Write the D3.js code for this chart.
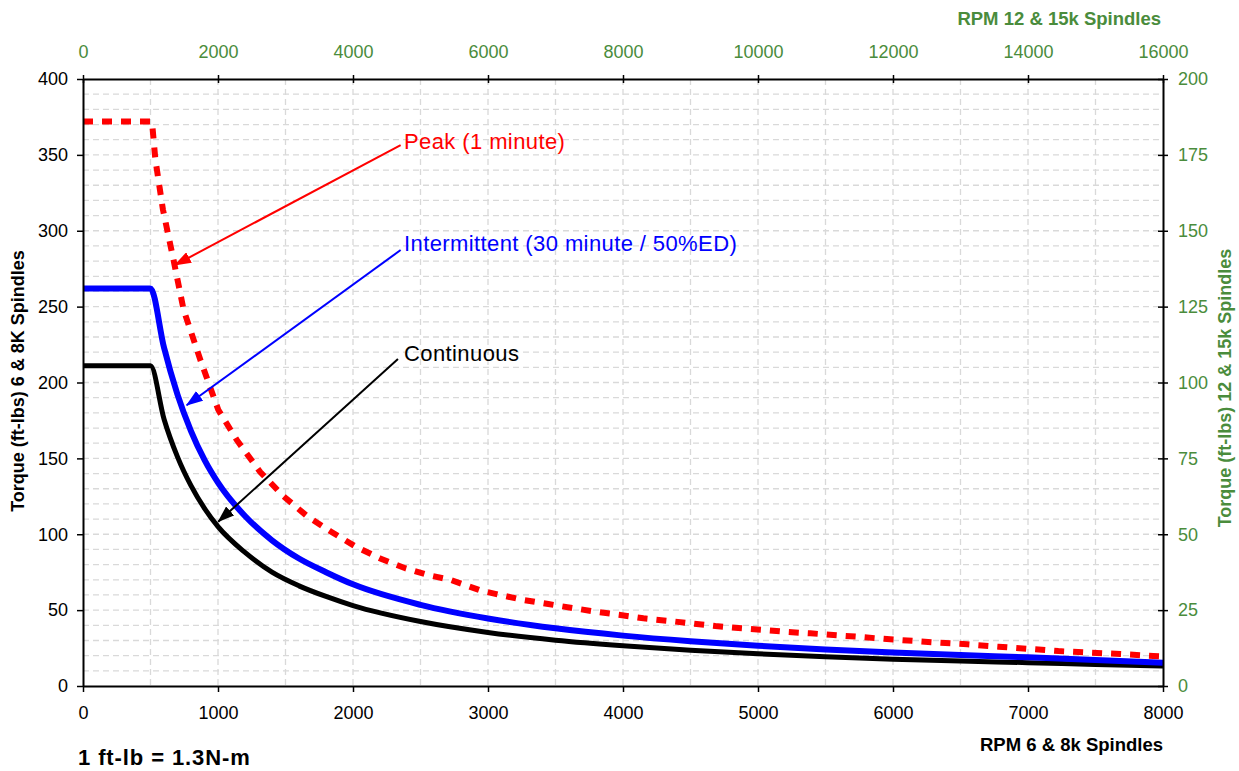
<!DOCTYPE html>
<html>
<head>
<meta charset="utf-8">
<script src="https://cdn.jsdelivr.net/npm/d3@7"></script>
<style>
  body { margin: 0; background: #fff; }
  svg text { font-family: "Liberation Sans", Arial, sans-serif; }
</style>
</head>
<body>
<div id="chart"></div>
<script>
// torque curves, [rpm (6 & 8k spindles), torque ft-lbs]
const continuous = [[0,211],[500,211],[600,176],[700,151],[800,132],[900,117],[1000,105],[1200,88],[1400,75],[1600,66],
  [1800,59],[2000,53],[2500,42.5],[3000,35.3],[3500,30.2],[4000,26.5],[4500,23.6],[5000,21.2],[5500,19.3],[6000,17.7],
  [6500,16.4],[7000,15.4],[7500,14.2],[8000,13.2]];
const intermittent = [[0,262],[500,262],[600,223],[700,192],[800,168],[900,149],[1000,134],[1200,112],[1400,96],[1600,84],
  [1800,75],[2000,67],[2500,53.5],[3000,44.5],[3500,38],[4000,33.2],[4500,29.5],[5000,26.5],[5500,24.1],[6000,22.1],
  [6500,20.4],[7000,18.9],[7500,17.2],[8000,15.3]];
const peak = [[0,372],[511,372],[536,347],[592,314],[670,281],[745,248],[869,215],[1002,182],[1140,162],[1313,141],
  [1486,125],[1659,112],[1832,102],[2017,92],[2202,84],[2387,77.6],[2560,73],[2721,70],[2943,63],[3091,60],
  [3262,56.7],[3447,54],[3625,51.4],[3795,49],[3980,46.8],[4151,44.6],[4328,43],[4499,41.3],[4684,39.5],[4854,38.2],
  [5040,36.9],[5217,35.6],[5388,34.7],[5558,33.6],[5733,32.5],[5885,31.4],[6054,30.3],[6299,28.8],[6550,27.5],
  [6780,25.9],[7017,24.4],[7225,23],[7461,22],[7683,21.1],[7928,19.8],[8000,19.5]];

const bottomTicks = [0,1000,2000,3000,4000,5000,6000,7000,8000];
const topTicks = [0,2000,4000,6000,8000,10000,12000,14000,16000];
const leftTicks = [0,50,100,150,200,250,300,350,400];
const rightTicks = [0,25,50,75,100,125,150,175,200];

// callouts: label anchor, line start and arrow tip in data units
const callouts = [
  {text: 'Peak (1 minute)', color: '#ff0000', label: [2378, 359], from: [2353, 356.5], tip: [681, 277.4]},
  {text: 'Intermittent (30 minute / 50%ED)', color: '#0000ff', label: [2378, 292], from: [2353, 287.3], tip: [768, 185]},
  {text: 'Continuous', color: '#000000', label: [2378, 219.5], from: [2333, 215.5], tip: [1002, 108.3]}
];

const green = '#4a8c3c';
const W = 1239, H = 771;
const margin = {top: 79, right: 76, bottom: 85, left: 83};
const width = W - margin.left - margin.right;
const height = H - margin.top - margin.bottom;

const svg = d3.select('#chart').append('svg')
  .attr('width', W)
  .attr('height', H);

const x = d3.scaleLinear().domain([0, 8000]).range([0, width]);
const xTop = d3.scaleLinear().domain([0, 16000]).range([0, width]);
const y = d3.scaleLinear().domain([0, 400]).range([height, 0]);
const yRight = d3.scaleLinear().domain([0, 200]).range([height, 0]);

const g = svg.append('g')
  .attr('transform', `translate(${margin.left},${margin.top})`);

// dashed grid
g.append('g').selectAll('line')
  .data(d3.range(500, 8000, 500))
  .enter().append('line')
  .attr('x1', d => x(d)).attr('x2', d => x(d))
  .attr('y1', 0).attr('y2', height)
  .attr('stroke', '#d9d9d9').attr('stroke-width', 1.3).attr('stroke-dasharray', '6,4');

g.append('g').selectAll('line')
  .data(d3.range(10, 400, 10))
  .enter().append('line')
  .attr('y1', d => y(d)).attr('y2', d => y(d))
  .attr('x1', 0).attr('x2', width)
  .attr('stroke', '#d9d9d9').attr('stroke-width', 1.3).attr('stroke-dasharray', '6,4');

// curves
const line = d3.line().x(d => x(d[0])).y(d => y(d[1]));
const smooth = d3.line().x(d => x(d[0])).y(d => y(d[1])).curve(d3.curveMonotoneX);

g.append('path').datum(continuous)
  .attr('d', smooth).attr('fill', 'none')
  .attr('stroke', '#000').attr('stroke-width', 5).attr('stroke-linejoin', 'round');
g.append('path').datum(intermittent)
  .attr('d', smooth).attr('fill', 'none')
  .attr('stroke', '#0000ff').attr('stroke-width', 6).attr('stroke-linejoin', 'round');
g.append('path').datum(peak)
  .attr('d', line).attr('fill', 'none')
  .attr('stroke', '#ff0000').attr('stroke-width', 6).attr('stroke-dasharray', '10,9');

// axes
function styleAxis(sel, col) {
  sel.select('.domain').attr('stroke', '#000').attr('stroke-width', 2);
  sel.selectAll('.tick line').attr('stroke', '#000').attr('stroke-width', 1.5);
  sel.selectAll('.tick text').attr('fill', col).style('font-size', '18px')
    .style('font-family', '"Liberation Sans", Arial, sans-serif');
}

g.append('g')
  .attr('transform', `translate(0,${height})`)
  .call(d3.axisBottom(x).tickValues(bottomTicks).tickSize(6).tickSizeOuter(0).tickPadding(14).tickFormat(d3.format('d')))
  .call(s => styleAxis(s, '#000'));

g.append('g')
  .call(d3.axisLeft(y).tickValues(leftTicks).tickSize(6).tickSizeOuter(0).tickPadding(9))
  .call(s => styleAxis(s, '#000'));

const topAxis = g.append('g')
  .call(d3.axisTop(xTop).tickValues(topTicks).tickSize(4).tickSizeOuter(0).tickPadding(17).tickFormat(d3.format('d')))
  .call(s => styleAxis(s, green));
topAxis.selectAll('.tick line').attr('y1', 4).attr('y2', -4);

const rightAxis = g.append('g')
  .attr('transform', `translate(${width},0)`)
  .call(d3.axisRight(yRight).tickValues(rightTicks).tickSize(5).tickSizeOuter(0).tickPadding(10))
  .call(s => styleAxis(s, green));
rightAxis.selectAll('.tick line').attr('x1', -5).attr('x2', 5);

// axis titles
svg.append('text')
  .attr('x', margin.left + width).attr('y', 745)
  .attr('text-anchor', 'end').attr('dy', '0.35em')
  .style('font-size', '18.5px').style('font-weight', 'bold')
  .text('RPM 6 & 8k Spindles');

svg.append('text')
  .attr('x', margin.left + width - 2).attr('y', 19)
  .attr('text-anchor', 'end').attr('dy', '0.35em')
  .attr('fill', green)
  .style('font-size', '18.5px').style('font-weight', 'bold')
  .text('RPM 12 & 15k Spindles');

svg.append('text')
  .attr('transform', 'translate(18,381) rotate(-90)')
  .attr('text-anchor', 'middle').attr('dy', '0.35em')
  .style('font-size', '18px').style('font-weight', 'bold')
  .text('Torque (ft-lbs) 6 & 8K Spindles');

svg.append('text')
  .attr('transform', 'translate(1225,388) rotate(-90)')
  .attr('text-anchor', 'middle').attr('dy', '0.35em')
  .attr('fill', green)
  .style('font-size', '18px').style('font-weight', 'bold')
  .text('Torque (ft-lbs) 12 & 15k Spindles');

svg.append('text')
  .attr('x', 78).attr('y', 757)
  .attr('dy', '0.35em')
  .style('font-size', '22px').style('font-weight', 'bold')
  .style('letter-spacing', '0.9px')
  .text('1 ft-lb = 1.3N-m');

// callout arrows
const defs = svg.append('defs');
callouts.forEach((c, i) => {
  defs.append('marker')
    .attr('id', 'arrow' + i)
    .attr('markerUnits', 'userSpaceOnUse')
    .attr('markerWidth', 17).attr('markerHeight', 12)
    .attr('refX', 16).attr('refY', 6)
    .attr('orient', 'auto')
    .append('path')
    .attr('d', 'M0,0 L17,6 L0,12 Z')
    .attr('fill', c.color);

  g.append('line')
    .attr('x1', x(c.from[0])).attr('y1', y(c.from[1]))
    .attr('x2', x(c.tip[0])).attr('y2', y(c.tip[1]))
    .attr('stroke', c.color).attr('stroke-width', 2)
    .attr('marker-end', `url(#arrow${i})`);

  g.append('text')
    .attr('x', x(c.label[0])).attr('y', y(c.label[1]))
    .attr('dy', '0.35em')
    .attr('fill', c.color)
    .style('font-size', '22px')
    .style('letter-spacing', '0.4px')
    .text(c.text);
});
</script>
</body>
</html>
